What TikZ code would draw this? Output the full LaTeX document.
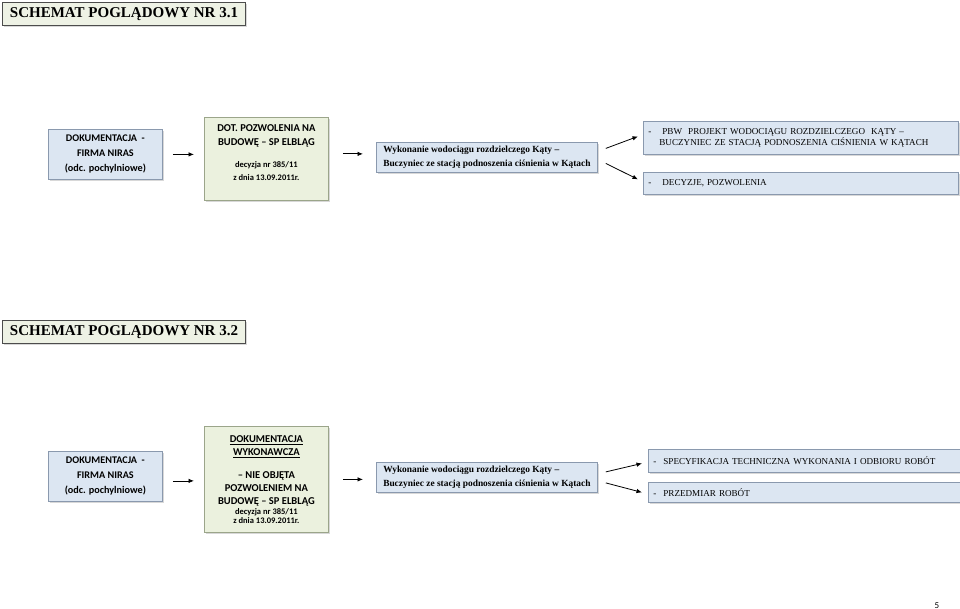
\documentclass[tikz,border=0pt]{standalone}
\usepackage{fontspec}
\setmainfont{Liberation Serif}
\newfontfamily\calibri{Carlito}
\usetikzlibrary{arrows.meta,shadows}

\definecolor{niebieski}{HTML}{DCE6F2}
\definecolor{zielony}{HTML}{EBF1DE}
\definecolor{tlotytulu}{HTML}{EEF2E5}
\definecolor{ramka}{HTML}{8A99AE}
\definecolor{ramkaz}{HTML}{9BA58A}

\tikzset{
	cien/.style={drop shadow={shadow xshift=1.5pt,shadow yshift=-1.5pt,fill=black!30}},
	tytul/.style={draw=black!70,fill=tlotytulu,line width=1pt,anchor=north west,
		minimum width=243pt,minimum height=23pt,inner sep=0pt,cien,
		font=\fontsize{15}{17}\selectfont\bfseries},
	firma/.style={draw=ramka,fill=niebieski,line width=0.8pt,anchor=north west,
		minimum width=114pt,minimum height=50pt,inner sep=0pt,align=center,cien,
		font=\calibri\fontsize{10.2}{15}\selectfont\bfseries},
	decyzja/.style={draw=ramkaz,fill=zielony,line width=0.8pt,anchor=north west,
		minimum width=124pt,inner sep=0pt,align=center,cien,
		font=\calibri\fontsize{10.5}{13}\selectfont\bfseries},
	wykonanie/.style={draw=ramka,fill=niebieski,line width=0.8pt,anchor=north west,
		minimum width=221pt,inner sep=0pt,minimum height=30pt,align=left,cien,
		font=\fontsize{9.4}{14}\selectfont\bfseries},
	wynik/.style={draw=ramka,fill=niebieski,line width=0.8pt,anchor=north west,
		text width=305pt,inner xsep=5pt,inner ysep=0pt,align=left,cien,
		font=\fontsize{9.1}{10.5}\selectfont},
	strzalka/.style={-{Latex[length=5.5pt,width=4.5pt]},line width=0.8pt},
}
\newcommand{\drobne}{\fontsize{8.5}{12}\selectfont}

\begin{document}
\begin{tikzpicture}[x=1pt,y=-1pt]
	\useasboundingbox (0,0) rectangle (960,609);

	% naglowki
	\node[tytul] (t1) at (2,2) {SCHEMAT POGLĄDOWY NR 3.1};
	\node[tytul] (t2) at (2,320) {SCHEMAT POGLĄDOWY NR 3.2};

	% bloki powtarzane w obu schematach
	\foreach \r/\ya/\yc in {1/129/142,2/451/462} {
		\node[firma] (a\r) at (48,\ya) {DOKUMENTACJA\ \ -\\FIRMA NIRAS\\(odc. pochylniowe)};
		\node[wykonanie] (c\r) at (376,\yc) {Wykonanie wodociągu rozdzielczego Kąty –\\Buczyniec ze stacją podnoszenia ciśnienia w Kątach};
	}

	% schemat 3.1
	\node[decyzja,minimum height=83pt] (b1) at (204,117) {};
	\node[font=\calibri\fontsize{10.5}{14}\selectfont\bfseries,align=center,anchor=north,inner sep=0pt]
		(b1tekst) at ([yshift=-7pt]b1.north)
		{DOT. POZWOLENIA NA\\BUDOWĘ – SP ELBLĄG\\[8pt]{\drobne decyzja nr 385/11}\\[-1pt]{\drobne z dnia 13.09.2011r.}};
	\node[wynik,minimum height=33pt] (d1) at (643,121)
		{\makebox[14pt][l]{-}PBW\ \ PROJEKT WODOCIĄGU ROZDZIELCZEGO\ \ KĄTY –\\\hspace*{11pt}BUCZYNIEC ZE STACJĄ PODNOSZENIA CIŚNIENIA W KĄTACH};
	\node[wynik,minimum height=22pt] (e1) at (643,172) {\makebox[14pt][l]{-}DECYZJE, POZWOLENIA};

	\draw[strzalka] ([xshift=10pt]a1.east) -- ([xshift=-10pt]a1.east -| b1.west);
	\draw[strzalka] ([xshift=14pt,yshift=5pt]b1.east) -- ([xshift=-13pt,yshift=5pt]b1.east -| c1.west);
	\draw[strzalka] ([xshift=8pt,yshift=9pt]c1.east) -- ([xshift=-5pt,yshift=1.5pt]d1.west);
	\draw[strzalka] ([xshift=8pt,yshift=-6pt]c1.east) -- ([xshift=-5pt,yshift=4pt]e1.west);

	% schemat 3.2
	\node[decyzja,minimum height=106pt] (b2) at (204,426)
		{\underline{DOKUMENTACJA}\\\underline{WYKONAWCZA}\\[10pt]– NIE OBJĘTA\\POZWOLENIEM NA\\BUDOWĘ – SP ELBLĄG\\[-3pt]{\drobne decyzja nr 385/11}\\[-4pt]{\drobne z dnia 13.09.2011r.}};
	\node[wynik,minimum height=23pt] (d2) at (648,449)
		{\makebox[10pt][l]{-}SPECYFIKACJA TECHNICZNA WYKONANIA I ODBIORU ROBÓT};
	\node[wynik,minimum height=20pt] (e2) at (648,482) {\makebox[10pt][l]{-}PRZEDMIAR ROBÓT};

	\draw[strzalka] ([xshift=10pt,yshift=-4.5pt]a2.east) -- ([xshift=-10pt,yshift=-4.5pt]a2.east -| b2.west);
	\draw[strzalka] ([xshift=14pt]b2.east) -- ([xshift=-13pt]b2.east -| c2.west);
	\draw[strzalka] ([xshift=8pt,yshift=5.5pt]c2.east) -- ([xshift=-6pt,yshift=-2.5pt]d2.west);
	\draw[strzalka] ([xshift=8pt,yshift=-5.5pt]c2.east) -- ([xshift=-6pt]e2.west);

	% numer strony
	\node[font=\calibri\fontsize{9}{10}\selectfont,anchor=base,inner sep=0pt] (nr) at (937,608) {5};
\end{tikzpicture}
\end{document}
